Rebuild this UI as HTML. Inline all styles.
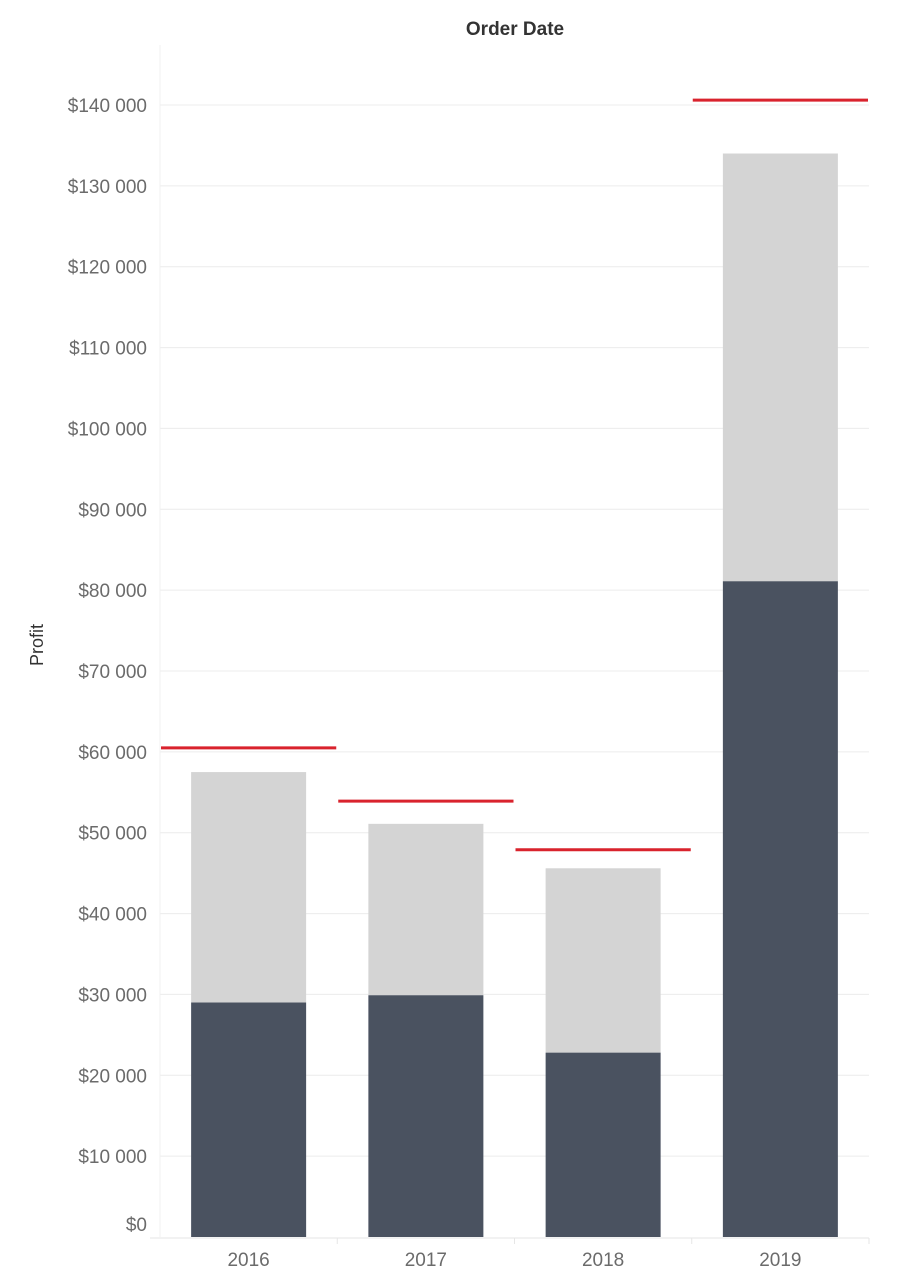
<!DOCTYPE html>
<html><head><meta charset="utf-8"><style>
html,body{margin:0;padding:0;background:#fff;}
svg text{font-family:"Liberation Sans",sans-serif;}
</style></head><body>
<svg id="chart" width="906" height="1280" xmlns="http://www.w3.org/2000/svg">
<text x="515" y="35" text-anchor="middle" font-size="19" font-weight="bold" fill="#333">Order Date</text>
<text x="0" y="0" transform="translate(43,645) rotate(-90)" text-anchor="middle" font-size="18" fill="#333">Profit</text>
<g id="grid"></g><g id="bars"></g><g id="axes"></g>
</svg>
<script>
const years = ["2016","2017","2018","2019"];
const darkValues = [29000, 29900, 22800, 81100];
const totalValues = [57500, 51100, 45600, 134000];
const targetValues = [60500, 53900, 47900, 140600];
const yTicks = [0,10000,20000,30000,40000,50000,60000,70000,80000,90000,100000,110000,120000,130000,140000];
const yTickLabels = ["$0","$10 000","$20 000","$30 000","$40 000","$50 000","$60 000","$70 000","$80 000","$90 000","$100 000","$110 000","$120 000","$130 000","$140 000"];

const NS="http://www.w3.org/2000/svg";
const x0=160, x1=869, y0=1237, pxPer=(1237-105)/140000;
const colW=(x1-x0)/years.length, barW=115;
const y=v=>y0-v*pxPer;
function mk(parent,tag,attrs){const e=document.createElementNS(NS,tag);for(const k in attrs)e.setAttribute(k,attrs[k]);document.getElementById(parent).appendChild(e);return e;}

yTicks.forEach((t,i)=>{
  if(t>0){const g=mk('grid','line',{x1:x0,x2:x1,y1:y(t),y2:y(t),stroke:'#ececec','stroke-width':1});
  
  }
  const lbl=mk('axes','text',{x:147,y:(t===0?y(t)-6:y(t)+7),'text-anchor':'end','font-size':19,fill:'#6b6b6b'});
  lbl.textContent=yTickLabels[i];
  
  
});
const vl=mk('axes','line',{x1:x0,x2:x0,y1:45,y2:y0,stroke:'#f0f0f0'});


const bl=mk('axes','line',{x1:x0-10,x2:x1,y1:y0+1,y2:y0+1,stroke:'#e6e6e6'});



years.forEach((yr,i)=>{
  const cx=x0+colW*(i+0.5);
  const lt=mk('bars','rect',{x:cx-barW/2,y:y(totalValues[i]),width:barW,height:y(darkValues[i])-y(totalValues[i]),fill:'#d4d4d4'});
  
  
  const dk=mk('bars','rect',{x:cx-barW/2,y:y(darkValues[i]),width:barW,height:y0-y(darkValues[i]),fill:'#4a5260'});
  
  
  const rl=mk('bars','line',{x1:x0+colW*i+1,x2:x0+colW*(i+1)-1,y1:y(targetValues[i]),y2:y(targetValues[i]),stroke:'#d9232d','stroke-width':3});
  
  
  const tk=mk('axes','line',{x1:x0+colW*(i+1),x2:x0+colW*(i+1),y1:y0+1,y2:y0+7,stroke:'#e6e6e6'});
  
  
  const xl=mk('axes','text',{x:cx,y:1266,'text-anchor':'middle','font-size':19,fill:'#6b6b6b'});
  xl.textContent=yr;
  
  
});
</script>
</body></html>
